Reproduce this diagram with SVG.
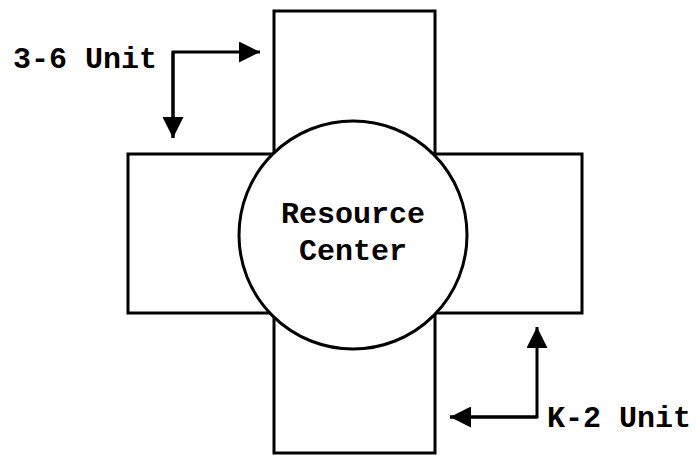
<svg xmlns="http://www.w3.org/2000/svg" width="696" height="455" viewBox="0 0 696 455">
<defs>
<style>
.shape{fill:#fff;stroke:#000;stroke-width:3}
.lbl{font-family:"Liberation Mono","Courier New",monospace;font-weight:bold;font-size:30px;fill:#000}
.conn{fill:none;stroke:#000;stroke-width:3}
</style>
<marker id="ah" viewBox="0 0 10 10" refX="10" refY="5" markerWidth="7" markerHeight="7" markerUnits="strokeWidth" orient="auto">
<path d="M0,0 L10,5 L0,10 z" fill="#000"/>
</marker>
</defs>
<rect width="696" height="455" fill="#fff"/>
<g id="upper-wing"><rect class="shape" x="274" y="11" width="161" height="442"/></g>
<g id="side-wings"><rect class="shape" x="128" y="154" width="454" height="159"/></g>
<g id="resource-center">
<circle class="shape" cx="353" cy="235" r="114"/>
<text class="lbl" x="353" y="223" text-anchor="middle">Resource</text>
<text class="lbl" x="353" y="260" text-anchor="middle">Center</text>
</g>
<g id="unit-3-6"><text class="lbl" x="13" y="68">3-6 Unit</text></g>
<g id="unit-k-2"><text class="lbl" x="547" y="427">K-2 Unit</text></g>
<g id="connectors">
<path class="conn" d="M173,138 L173,52 L260,52" marker-end="url(#ah)"/>
<path class="conn" d="M173,52 L173,138" marker-end="url(#ah)"/>
<path class="conn" d="M450,417 L537,417 L537,327" marker-end="url(#ah)"/>
<path class="conn" d="M537,417 L450,417" marker-end="url(#ah)"/>
</g>
</svg>
